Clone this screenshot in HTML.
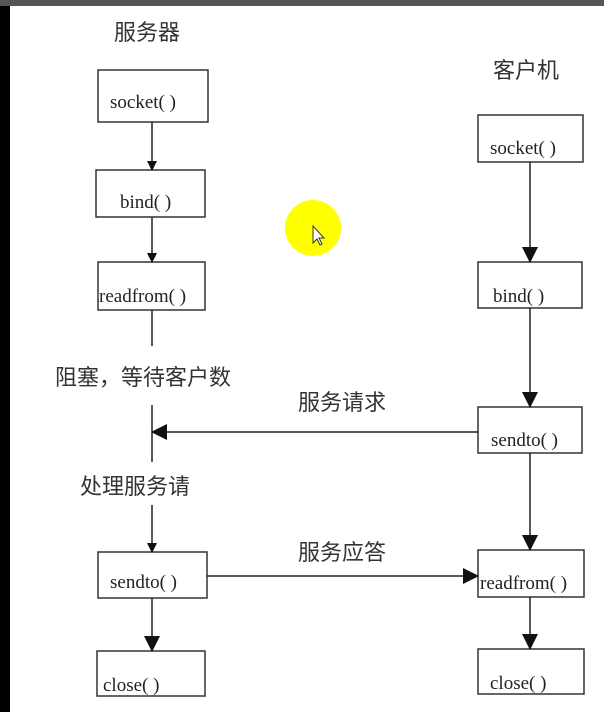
<!DOCTYPE html>
<html><head><meta charset="utf-8"><style>
html,body{margin:0;padding:0;background:#fff;}
svg{display:block}
text{font-family:"Liberation Serif","Noto Serif CJK SC",serif;fill:#222}
.cj{font-family:"Liberation Sans","Noto Sans CJK SC",sans-serif;fill:#333}
</style></head><body>
<svg width="604" height="712" viewBox="0 0 604 712" xmlns="http://www.w3.org/2000/svg">
<defs><marker id="a" markerWidth="10" markerHeight="10" refX="9" refY="5" orient="auto" markerUnits="userSpaceOnUse"><path d="M0,0 L10,5 L0,10 z" fill="#111"/></marker>
<marker id="b" markerWidth="16" markerHeight="16" refX="15" refY="8" orient="auto" markerUnits="userSpaceOnUse"><path d="M0,0 L16,8 L0,16 z" fill="#111"/></marker></defs>
<rect x="0" y="0" width="604" height="712" fill="#fff"/>
<rect x="0" y="0" width="604" height="6" fill="#555"/>
<rect x="0" y="6" width="10" height="706" fill="#000"/>
<circle cx="313" cy="228" r="28" fill="#ffff00"/>
<path d="M313,226 l0,17 l4,-4 l3,6 l2,-1 l-3,-6 l5,0 z" fill="#fff" stroke="#333" stroke-width="1"/>
<text class="cj" x="114" y="40" font-size="22">服务器</text>
<text class="cj" x="493" y="78" font-size="22">客户机</text>
<g fill="none" stroke="#333" stroke-width="1.5">
<rect x="98" y="70" width="110" height="52"/>
<rect x="96" y="170" width="109" height="47"/>
<rect x="98" y="262" width="107" height="48"/>
<rect x="98" y="552" width="109" height="46"/>
<rect x="97" y="651" width="108" height="45"/>
<rect x="478" y="115" width="105" height="47"/>
<rect x="478" y="262" width="104" height="46"/>
<rect x="478" y="407" width="104" height="46"/>
<rect x="478" y="550" width="106" height="47"/>
<rect x="478" y="649" width="106" height="45"/>
</g>
<g stroke="#222" stroke-width="1.5">
<line x1="152" y1="122" x2="152" y2="170" marker-end="url(#a)"/>
<line x1="152" y1="217" x2="152" y2="262" marker-end="url(#a)"/>
<line x1="152" y1="310" x2="152" y2="346"/>
<line x1="152" y1="405" x2="152" y2="462"/>
<line x1="152" y1="505" x2="152" y2="552" marker-end="url(#a)"/>
<line x1="152" y1="598" x2="152" y2="651" marker-end="url(#b)"/>
<line x1="530" y1="162" x2="530" y2="262" marker-end="url(#b)"/>
<line x1="530" y1="308" x2="530" y2="407" marker-end="url(#b)"/>
<line x1="530" y1="453" x2="530" y2="550" marker-end="url(#b)"/>
<line x1="530" y1="597" x2="530" y2="649" marker-end="url(#b)"/>
<line x1="478" y1="432" x2="152" y2="432" marker-end="url(#b)"/>
<line x1="207" y1="576" x2="478" y2="576" marker-end="url(#b)"/>
</g>
<g font-size="19">
<text x="110" y="108">socket( )</text>
<text x="120" y="208">bind( )</text>
<text x="99" y="302">readfrom( )</text>
<text x="110" y="588">sendto( )</text>
<text x="103" y="691">close( )</text>
<text x="490" y="154">socket( )</text>
<text x="493" y="302">bind( )</text>
<text x="491" y="446">sendto( )</text>
<text x="480" y="589">readfrom( )</text>
<text x="490" y="689">close( )</text>
</g>
<text class="cj" x="55" y="385" font-size="22">阻塞，等待客户数</text>
<text class="cj" x="80" y="494" font-size="22">处理服务请</text>
<text class="cj" x="298" y="410" font-size="22">服务请求</text>
<text class="cj" x="298" y="560" font-size="22">服务应答</text>
</svg>
</body></html>
